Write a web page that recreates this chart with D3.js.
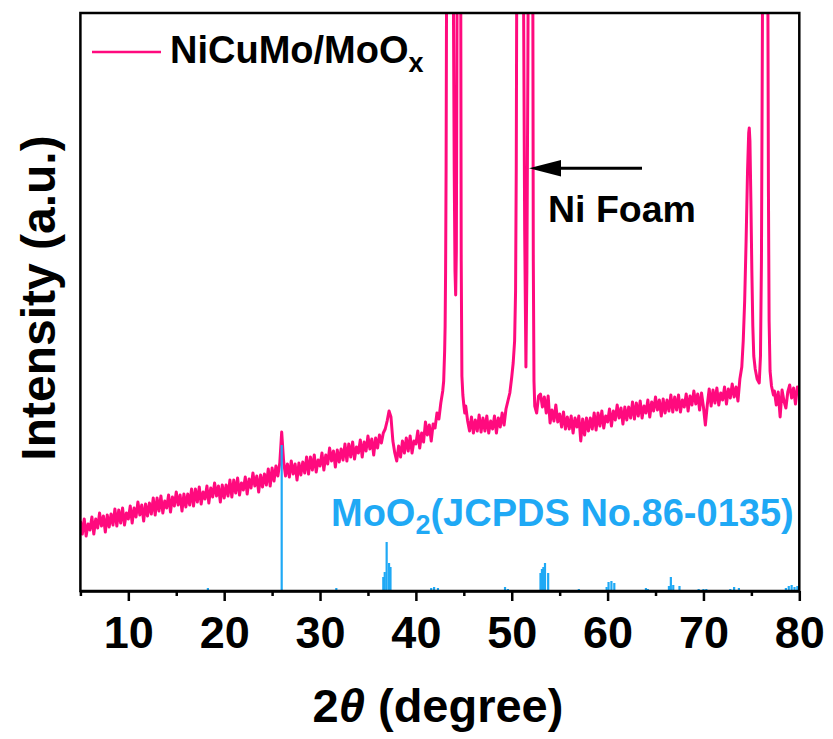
<!DOCTYPE html>
<html><head><meta charset="utf-8">
<script src="https://cdn.jsdelivr.net/npm/d3@7"></script>
<style>
body{margin:0;background:#fff}
text{font-family:"Liberation Sans",Arial,sans-serif;font-weight:bold}
</style>
</head><body>
<svg id="chart" width="833" height="739"></svg>
<script>
// ---------- DATA ----------
const xTicksMajor = [10, 20, 30, 40, 50, 60, 70, 80];
const xTicksMinor = [5, 15, 25, 35, 45, 55, 65, 75];
const scanStart = 5, scanStep = 0.2;   // regular 2θ grid of the scan
// NiCuMo/MoOx intensity on the regular grid (null where detailed peak points are given)
const scanIntensity = [
 70,57,72,55,67, 61,74,57,72,63, 78,65,75,59,76, 64,77,66,82,65, 81,68,83,66,78,
 72,85,68,83,74, 89,76,86,70,87, 75,88,77,93,76, 93,80,95,78,90, 83,96,79,94,85,
 99,86,96,80,97, 84,97,86,102,85, 102,89,104,87,99, 92,105,88,103,94, 108,95,105,89,106,
 93,106,95,111,94, 111,98,113,96,108, 101,114,97,112,103, 118,105,115,99,116, 104,117,106,122,105,
 123,110,125,115,128, 159,130,115,127,114, 130,117,127,111,128, 116,129,118,134,117, 134,121,136,119,131,
 125,138,121,136,127, 143,130,140,124,141, 129,142,131,147,130, 147,134,149,132,144, 138,151,134,149,140,
 155,142,152,136,153, 143,156,148,158,162, 170,180,174,150,138, 130,145,134,150,138, 153,140,155,138,150,
 147,160,143,158,149, 169,156,166,150,167, 163,178,172,188,200, null,null,null,null,null, null,null,null,null,null,
 null,185,170,160,174, 158,171,160,176,159, 173,160,175,158,170, 162,175,158,173,164, 178,166,182,190,null,
 null,null,null,null,null, null,null,null,null,null, null,null,null,178,195, 197,184,194,178,195, 168,181,170,186,169,
 177,164,179,162,174, 162,175,158,173,164, 175,150,172,156,173, 160,173,162,178,161, 178,165,180,163,175,
 169,182,165,180,171, 186,173,183,167,184, 171,184,173,189,172, 188,175,190,173,185, 178,191,174,189,180,
 194,181,191,175,192, 178,191,180,196,179, 194,181,196,179,191, 184,197,180,195,186, 200,187,197,181,198,
 184,166,186,202,185, 201,188,203,186,198, 191,204,187,202,193, 207,194,204,190,212, null,null,null,null,null,
 null,null,null,null,null, null,null,null,null,null, null,null,200,186,199, 174,201,190,183,199, 206,193,203,187,204,
 200
];
// detailed points through the strong peaks [2θ, intensity]
const peakCuNi111 = [[42.9,210],[43.0,240],[43.05,265],[43.1,320],[43.15,420],[43.2,600],[43.3,900],[43.45,1200],[43.6,1050],[43.75,900],[43.85,700],[43.92,580],[44.0,420],[44.08,320],[44.15,296],[44.22,340],[44.3,600],[44.4,1000],[44.5,1200],[44.6,950],[44.68,600],[44.73,330],[44.8,215],[44.9,196],[45.0,186],[45.1,178]];
const peakCuNi200 = [[49.8,198],[50.0,214],[50.15,228],[50.3,250],[50.4,300],[50.47,420],[50.52,600],[50.65,950],[50.85,1200],[51.05,1000],[51.18,700],[51.25,560],[51.35,360],[51.48,224],[51.58,320],[51.68,520],[51.75,700],[51.95,1200],[52.1,950],[52.2,600],[52.25,330],[52.32,210],[52.4,185]];
const peakCuNi220 = [[74.0,224],[74.15,250],[74.3,290],[74.45,350],[74.6,420],[74.72,458],[74.78,463],[74.85,450],[74.95,390],[75.05,320],[75.15,265],[75.25,235],[75.4,222],[75.6,212],[75.82,208],[75.95,235],[76.05,330],[76.15,560],[76.3,1000],[76.45,1200],[76.6,1000],[76.72,600],[76.78,400],[76.85,270],[76.95,220],[77.1,205],[77.3,196]];
// MoO2 reference pattern (JCPDS 86-0135): [2θ, relative height]
const refAngles  = [18.3,26.0,31.7,36.6,36.75,36.95,37.2,37.35,41.6,41.9,42.3,49.3,49.6,53.0,53.15,53.3,53.47,53.8,57.0,59.9,60.1,60.4,60.7,64.0,64.2,66.4,66.6,66.85,67.5,69.5,70.0,70.3,72.8,73.2,73.7,78.6,78.9,79.2,79.5,79.8];
const refHeights = [3,146,3,14,19,49,28,24,3,4,3,4,2,18,22,24,28,18,2,4,9,10,8,3,2,5,14,6,5,2,2,2,2,4,3,3,5,6,4,5];

// ---------- CHART ----------
const pink = "#FF0A7E", blue = "#1FA9F5";
const svg = d3.select("#chart");
const L = 80.4, R = 799.3, T = 13, B = 591;
const x = d3.scaleLinear().domain([5, 80]).range([L, R]);
const y = d3.scaleLinear().domain([0, 578]).range([B, T]);

svg.append("defs").append("clipPath").attr("id", "clip")
  .append("rect").attr("x", L).attr("y", T).attr("width", R - L).attr("height", B - T);

// build pattern
const pattern = [];
scanIntensity.forEach((v, i) => { if (v !== null) pattern.push([+(scanStart + i * scanStep).toFixed(2), v]); });
[peakCuNi111, peakCuNi200, peakCuNi220].forEach(p => p.forEach(d => pattern.push(d)));
pattern.sort((a, b) => a[0] - b[0]);

svg.append("path").datum(pattern)
  .attr("clip-path", "url(#clip)")
  .attr("fill", "none").attr("stroke", pink).attr("stroke-width", 3).attr("stroke-linejoin", "round")
  .attr("d", d3.line().x(d => x(d[0])).y(d => y(d[1])));

// reference sticks
svg.append("g").selectAll("line").data(refAngles.map((a, i) => [a, refHeights[i]])).join("line")
  .attr("x1", d => x(d[0])).attr("x2", d => x(d[0]))
  .attr("y1", y(0)).attr("y2", d => y(d[1]))
  .attr("stroke", blue).attr("stroke-width", 2.2);

// frame
svg.append("rect").attr("x", L).attr("y", T).attr("width", R - L).attr("height", B - T)
  .attr("fill", "none").attr("stroke", "#000").attr("stroke-width", 2.5);

// x axis
const gx = svg.append("g").attr("transform", `translate(0,${B})`)
  .call(d3.axisBottom(x).tickValues(xTicksMajor).tickSize(10).tickSizeOuter(0).tickFormat(d3.format("d")));
gx.select(".domain").attr("stroke", "#000").attr("stroke-width", 2.5);
gx.selectAll(".tick line").attr("stroke-width", 2.5);
gx.selectAll(".tick text").attr("y", 57).attr("dy", null)
  .style("font-family", '"Liberation Sans",Arial,sans-serif').style("font-weight", "bold")
  .style("font-size", "45px").attr("fill", "#000");
const gxm = svg.append("g").attr("transform", `translate(0,${B})`)
  .call(d3.axisBottom(x).tickValues(xTicksMinor).tickSize(5).tickSizeOuter(0).tickFormat(""));
gxm.select(".domain").remove();
gxm.selectAll(".tick line").attr("stroke-width", 2.5);

// axis titles
const xt = svg.append("text").attr("x", 438).attr("y", 722).attr("text-anchor", "middle").style("font-size", "47px");
xt.append("tspan").text("2");
xt.append("tspan").style("font-style", "italic").text("θ");
xt.append("tspan").text(" (degree)");

svg.append("text").attr("transform", "translate(55,298) rotate(-90)")
  .attr("text-anchor", "middle").style("font-size", "48px").text("Intensity (a.u.)");

// legend
svg.append("line").attr("x1", 92).attr("x2", 161).attr("y1", 52).attr("y2", 52)
  .attr("stroke", pink).attr("stroke-width", 2.6);
const lt = svg.append("text").attr("x", 170).attr("y", 63).style("font-size", "38px");
lt.append("tspan").text("NiCuMo/MoO");
lt.append("tspan").attr("dy", 9).style("font-size", "27px").text("x");

// Ni foam annotation
svg.append("line").attr("x1", 642).attr("x2", 550).attr("y1", 168.3).attr("y2", 168.3)
  .attr("stroke", "#000").attr("stroke-width", 3);
svg.append("path").attr("d", "M529,168.3 L561,160 L561,176.6 Z").attr("fill", "#000");
svg.append("text").attr("x", 548).attr("y", 222).style("font-size", "37.5px").text("Ni Foam");

// reference label
const rt = svg.append("text").attr("x", 331).attr("y", 526).attr("fill", blue).style("font-size", "38px");
rt.append("tspan").text("MoO");
rt.append("tspan").attr("dy", 8).style("font-size", "27px").text("2");
rt.append("tspan").attr("dy", -8).text("(JCPDS No.86-0135)");
</script>
</body></html>
